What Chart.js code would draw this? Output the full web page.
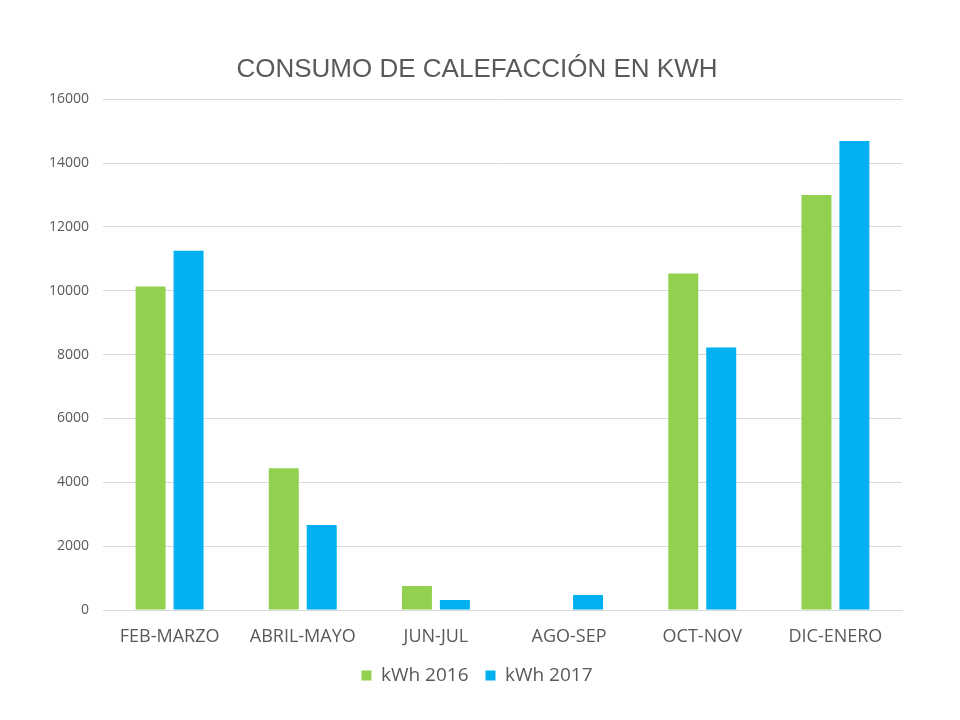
<!DOCTYPE html>
<html lang="es">
  <head>
    <meta charset="UTF-8" />
    <title>Consumo de calefacción en kWh</title>
    <script src="https://cdn.jsdelivr.net/npm/chart.js"></script>
    <style>
      body { margin: 0; background: #fff; }
      #wrap { width: 960px; height: 720px; }
    </style>
  </head>
  <body>
    <div id="wrap"><canvas id="chart" width="960" height="720"></canvas></div>
    <script>
      const periods = ["FEB-MARZO", "ABRIL-MAYO", "JUN-JUL", "AGO-SEP", "OCT-NOV", "DIC-ENERO"];
      const kwh2016 = [10130, 4440, 750, 0, 10540, 13000];
      const kwh2017 = [11250, 2660, 310, 470, 8220, 14690];
      const yTicks = [0, 2000, 4000, 6000, 8000, 10000, 12000, 14000, 16000];

      const textColor = "#595959";

      new Chart(document.getElementById("chart"), {
        type: "bar",
        data: {
          labels: periods,
          datasets: [
            {
              label: "kWh 2016",
              data: kwh2016,
              backgroundColor: "#92d050",
              barPercentage: 0.79,
              categoryPercentage: 0.57,
            },
            {
              label: "kWh 2017",
              data: kwh2017,
              backgroundColor: "#00b0f0",
              barPercentage: 0.79,
              categoryPercentage: 0.57,
            },
          ],
        },
        options: {
          responsive: false,
          animation: false,
          layout: { padding: { left: 30, right: 36, top: 0, bottom: 25 } },
          plugins: {
            title: {
              display: true,
              text: "CONSUMO DE CALEFACCIÓN EN KWH",
              color: textColor,
              font: { family: "Liberation Sans", size: 26, weight: "normal" },
              padding: { top: 54, bottom: 14 },
            },
            legend: {
              position: "bottom",
              labels: {
                color: textColor,
                font: { family: "Open Sans", size: 19 },
                boxWidth: 10,
                boxHeight: 10,
                padding: 17,
              },
            },
            tooltip: { enabled: false },
          },
          scales: {
            x: {
              grid: { display: false, drawTicks: false },
              border: { color: "#d9d9d9" },
              ticks: {
                color: textColor,
                font: { family: "Open Sans", size: 18 },
                padding: 16,
              },
              afterFit: (scale) => { scale.height = 39; },
            },
            y: {
              min: 0,
              max: 16000,
              afterBuildTicks: (scale) => {
                scale.ticks = yTicks.map((v) => ({ value: v }));
              },
              grid: { color: "#d9d9d9", drawTicks: false },
              border: { display: false },
              ticks: {
                color: textColor,
                font: { family: "Open Sans", size: 14 },
                padding: 14,
                callback: (v) => String(v),
              },
              afterFit: (scale) => { scale.width = 73; },
            },
            // empty right-hand spacer so the title sits where it does in the original
            spacer: {
              position: "right",
              min: 0,
              max: 16000,
              grid: { display: false, drawTicks: false },
              border: { display: false },
              ticks: { display: false },
              afterFit: (scale) => { scale.width = 22; },
            },
          },
        },
      });
    </script>
  </body>
</html>
